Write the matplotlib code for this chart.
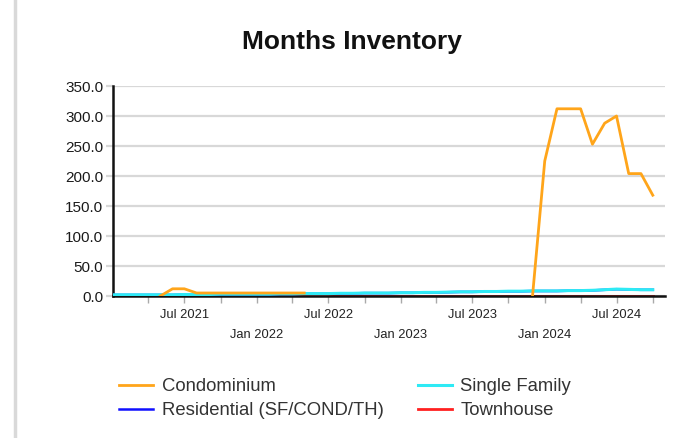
import matplotlib
matplotlib.use("Agg")
import matplotlib.pyplot as plt
import pandas as pd
import numpy as np

plt.rcParams['font.family'] = ['Liberation Sans', 'DejaVu Sans']

months = pd.date_range("2021-01-01", "2024-10-01", freq="MS")

condominium = [np.nan, np.nan, np.nan, np.nan, 0, 12, 12, 5, 5, 5, 5, 5, 5, 5, 5, 5, 5,
               np.nan, np.nan, np.nan, np.nan, np.nan, np.nan, np.nan, np.nan, np.nan,
               np.nan, np.nan, np.nan, np.nan, np.nan, np.nan, np.nan, np.nan, np.nan,
               0, 225, 312, 312, 312, 253, 288, 300, 204, 204, 168]
single_family = [2, 2, 2, 2, 2, 2, 2.5, 2.5, 2.5, 3, 3, 3, 3, 3, 3.5, 3.5, 4, 4, 4, 4.5,
                 4.5, 5, 5, 5, 5.5, 5.5, 6, 6, 6.5, 7, 7, 7.5, 7.5, 8, 8, 8.5, 8.5, 8.5,
                 9, 9, 9.5, 10.5, 11.5, 11, 10.5, 10.5]
residential = [1.8, 1.8, 1.8, 1.8, 1.8, 1.8, 2.3, 2.3, 2.3, 2.8, 2.8, 2.8, 2.8, 2.8, 3.3,
               3.3, 3.8, 3.8, 3.8, 4.3, 4.3, 4.8, 4.8, 4.8, 5.3, 5.3, 5.8, 5.8, 6.3, 6.8,
               6.8, 7.3, 7.3, 7.8, 7.8, 8.3, 8.3, 8.3, 8.8, 8.8, 9.3, 10.3, 11.3, 10.8,
               10.3, 10.3]
townhouse = [0.5] * 46

y_ticks = [0, 50, 100, 150, 200, 250, 300, 350]

fig = plt.figure(figsize=(6.85, 4.38), dpi=100)
ax = fig.add_axes([113/685, 1-296/438, (665-113)/685, (296-86)/438])

ax.plot(months, townhouse, color="#ff2020", lw=2, label="Townhouse", zorder=2)
ax.plot(months, residential, color="#1010ff", lw=1.8, label="Residential (SF/COND/TH)", zorder=3)
ax.plot(months, single_family, color="#2eeaf5", lw=2.2, label="Single Family", zorder=4)
ax.plot(months, condominium, color="#ffa51a", lw=2, label="Condominium", zorder=5)

ax.set_ylim(0, 350)
ax.set_xlim(pd.Timestamp("2021-01-01"), pd.Timestamp("2024-11-01"))
ax.set_yticks(y_ticks)
ax.set_yticklabels([f"{v:.1f}" for v in y_ticks], fontsize=11, color="#1a1a1a")
ax.yaxis.grid(True, color="#d8d8d8", lw=1.6)
ax.set_axisbelow(True)
ax.tick_params(axis='y', length=5, color="#d8d8d8", width=1.6, pad=2)

ticks = pd.date_range("2021-04-01", "2024-10-01", freq="3MS")
ax.set_xticks(ticks)
labels = []
for t in ticks:
    if t.month == 7:
        labels.append(t.strftime("Jul %Y"))
    elif t.month == 1:
        labels.append("\n" + t.strftime("Jan %Y"))
    else:
        labels.append("")
ax.set_xticklabels(labels, fontsize=9.3, color="#222222", linespacing=2.0)
ax.tick_params(axis='x', length=5, color="#aaaaaa", width=1, pad=4)

for s in ["top", "right"]:
    ax.spines[s].set_visible(False)
ax.spines["left"].set_linewidth(1.8)
ax.spines["bottom"].set_linewidth(1.8)
ax.spines["left"].set_color("#111111")
ax.spines["bottom"].set_color("#111111")

fig.text(352/685, 1-42/438, "Months Inventory", ha="center", va="center",
         fontsize=19, fontweight="bold", color="#111111")

h = {l.get_label(): l for l in ax.get_lines()}
order = ["Condominium", "Residential (SF/COND/TH)", "Single Family", "Townhouse"]
leg = fig.legend([h[k] for k in order], order, loc="center", ncol=2,
                 bbox_to_anchor=(345/685, 1-398.5/438), frameon=False, fontsize=13.3,
                 handlelength=1.85, columnspacing=1.85, labelspacing=0.38,
                 handletextpad=0.45, borderpad=0, borderaxespad=0)
for t in leg.get_texts():
    t.set_color("#333333")

fig.add_artist(plt.Line2D([15/685, 15/685], [0, 1], color="#d9d9d9", lw=2.5,
                          transform=fig.transFigure))

fig.savefig("out.png", dpi=100)
